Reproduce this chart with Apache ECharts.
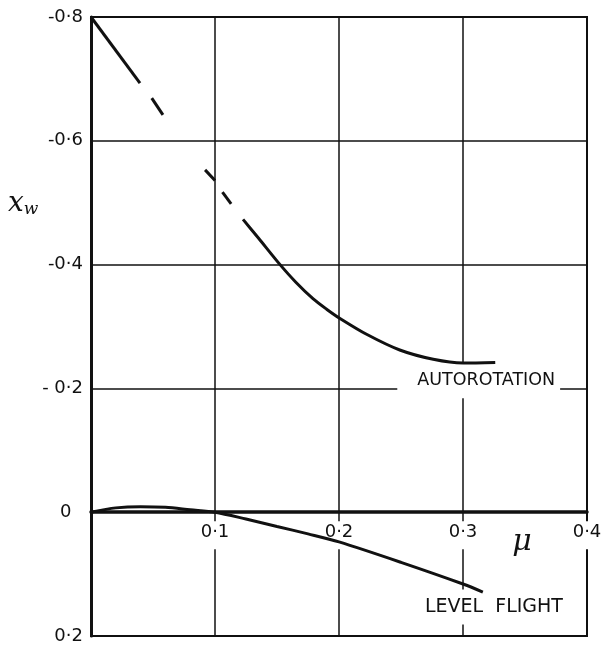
<!DOCTYPE html>
<html><head><meta charset="utf-8">
<script src="https://cdn.jsdelivr.net/npm/echarts@6/dist/echarts.min.js"></script>
<style>html,body{margin:0;padding:0;background:#fff}#c{width:605px;height:645px}</style>
</head><body><div id="c"></div>
<script>
// tick values and labels
const xTicks = [0, 0.1, 0.2, 0.3, 0.4];
const xTickLabels = ['', '0·1', '0·2', '0·3', '0·4'];
const yTicks = [-0.8, -0.6, -0.4, -0.2, 0, 0.2];
const yTickLabels = ['-0·8', '-0·6', '-0·4', '- 0·2', '0  ', '0·2'];

// Autorotation curve (mu, x_w): solid start, broken dashes, solid main part
const autoStart = [[0, -0.8], [0.0395, -0.693]];
const autoDash1 = [[0.049, -0.669], [0.058, -0.642]];
const autoDash2 = [[0.092, -0.553], [0.100, -0.536]];
const autoDash3 = [[0.106, -0.517], [0.113, -0.498]];
const autoMain = [[0.1226, -0.473], [0.135, -0.443], [0.1516, -0.402], [0.165, -0.372],
  [0.179, -0.345], [0.19, -0.328], [0.2008, -0.313], [0.2226, -0.287], [0.249, -0.262],
  [0.276, -0.247], [0.3, -0.241], [0.326, -0.242]];

// Level flight curve
const levelFlight = [[0, 0], [0.02, -0.007], [0.04, -0.009], [0.06, -0.008], [0.08, -0.004],
  [0.1, 0], [0.125, 0.011], [0.15, 0.023], [0.175, 0.035], [0.2, 0.048], [0.25, 0.081],
  [0.3, 0.116], [0.316, 0.129]];

// annotation anchors in data coordinates
const annAuto = [0.247, -0.213];
const annLevel = [0.2645, 0.153];
const annMu = [0.3476, 0.048];

const chart = echarts.init(document.getElementById('c'), null, {renderer: 'canvas'});
const lineStyle = {color: '#111', width: 3};
function seg(data, smooth) {
  return {type: 'line', data: data, showSymbol: false, symbol: 'none', smooth: smooth ? 0.3 : false,
    lineStyle: lineStyle, xAxisIndex: 0, yAxisIndex: 0, z: 10, animation: false};
}
const numFont = {fontFamily: 'DejaVu Sans', fontSize: 18, color: '#111'};
chart.setOption({
  animation: false,
  grid: {left: 91, top: 17, right: 18, bottom: 9, show: true, borderColor: '#111', borderWidth: 2,
    containLabel: false, outerBoundsMode: 'none'},
  xAxis: [{
    type: 'value', min: 0, max: 0.4, interval: 0.1, position: 'bottom', z: 6,
    axisLine: {show: true, onZero: true, lineStyle: {color: '#111', width: 3.5}},
    axisTick: {show: false}, axisLabel: {show: false},
    splitLine: {show: true, lineStyle: {color: '#111', width: 1.5}}
  }],
  yAxis: {
    type: 'value', inverse: true, min: -0.8, max: 0.2, interval: 0.2, z: 6,
    axisLine: {show: true, onZero: false, lineStyle: {color: '#111', width: 3}},
    axisTick: {show: false},
    splitLine: {show: true, lineStyle: {color: '#111', width: 1.5}},
    axisLabel: Object.assign({margin: 8,
      formatter: v => yTickLabels[Math.round((v + 0.8) / 0.2)] || ''}, numFont)
  },
  series: [seg(autoStart), seg(autoDash1), seg(autoDash2), seg(autoDash3), seg(autoMain, true), seg(levelFlight, true)]
});

const px = d => chart.convertToPixel({gridIndex: 0}, d);
const pA = px(annAuto), pL = px(annLevel), pM = px(annMu);
const graphics = [];
xTicks.forEach((t, i) => {
  if (!xTickLabels[i]) return;
  const p = px([t, 0]);
  graphics.push({type: 'text', x: p[0], y: p[1] + 9, z: 8,
    style: {text: xTickLabels[i], fontFamily: 'DejaVu Sans', fontSize: 18, fill: '#111',
      align: 'center', verticalAlign: 'top', backgroundColor: '#fff', padding: [2, 4, 8, 4]}});
});
graphics.push(
  {type: 'text', x: pA[0], y: pA[1], z: 8,
    style: {text: 'AUTOROTATION', fontFamily: 'DejaVu Sans', fontSize: 17.5, fill: '#111',
      align: 'left', verticalAlign: 'middle', backgroundColor: '#fff', padding: [8, 5, 10, 20]}},
  {type: 'text', x: pL[0], y: pL[1], z: 8,
    style: {text: 'LEVEL  FLIGHT', fontFamily: 'DejaVu Sans', fontSize: 19, fill: '#111',
      align: 'left', verticalAlign: 'middle', backgroundColor: '#fff', padding: [8, 6, 8, 6]}},
  {type: 'text', x: pM[0], y: pM[1], z: 8,
    style: {text: 'μ', fontFamily: 'DejaVu Serif', fontStyle: 'italic', fontSize: 30, fill: '#111',
      align: 'center', verticalAlign: 'middle'}},
  {type: 'text', left: 8, top: 190, z: 8,
    style: {text: '{a|x}{b|w}', rich: {
      a: {fontFamily: 'DejaVu Serif', fontStyle: 'italic', fontSize: 28, fill: '#111', verticalAlign: 'bottom'},
      b: {fontFamily: 'DejaVu Serif', fontStyle: 'italic', fontSize: 17, fill: '#111', padding: [12, 0, 0, 0], verticalAlign: 'bottom'}
    }}}
);
chart.setOption({graphic: graphics});
</script></body></html>
